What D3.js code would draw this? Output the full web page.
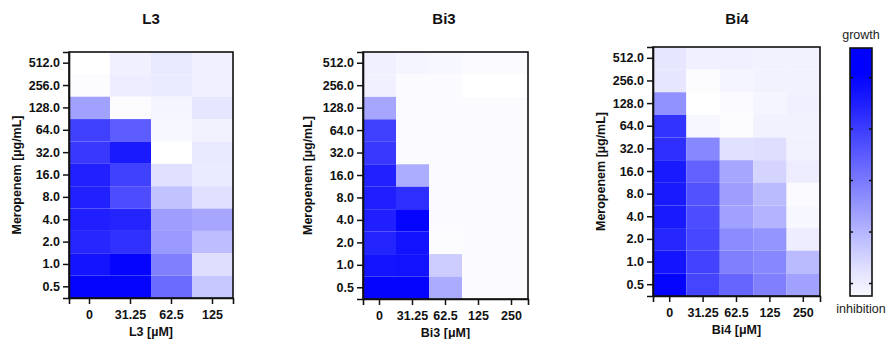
<!DOCTYPE html>
<html><head><meta charset="utf-8">
<script src="https://cdn.jsdelivr.net/npm/d3@7"></script>
<style>
body{margin:0;background:#fff;}
svg{display:block;font-family:"Liberation Sans",Arial,sans-serif;}
</style></head><body>
<svg id="chart" width="892" height="339"></svg>
<script>
// ---- data ----
const meropenem = ["512.0","256.0","128.0","64.0","32.0","16.0","8.0","4.0","2.0","1.0","0.5"];
const l3Conc = ["0","31.25","62.5","125"];
const bi3Conc = ["0","31.25","62.5","125","250"];
const bi4Conc = ["0","31.25","62.5","125","250"];
// growth (0 = inhibition, 1 = growth), rows follow meropenem order
const l3Values = [
  [0.00,0.06,0.09,0.06],
  [0.01,0.07,0.08,0.06],
  [0.37,0.01,0.04,0.10],
  [0.75,0.64,0.03,0.05],
  [0.78,0.90,0.00,0.09],
  [0.87,0.75,0.12,0.08],
  [0.87,0.70,0.24,0.12],
  [0.88,0.86,0.38,0.35],
  [0.85,0.81,0.40,0.26],
  [0.92,0.98,0.50,0.13],
  [0.98,0.98,0.58,0.22]
];
const bi3Values = [
  [0.06,0.04,0.03,0.02,0.02],
  [0.06,0.02,0.02,0.00,0.00],
  [0.35,0.02,0.02,0.02,0.02],
  [0.75,0.02,0.02,0.02,0.02],
  [0.78,0.02,0.02,0.02,0.02],
  [0.87,0.32,0.02,0.02,0.02],
  [0.88,0.82,0.02,0.02,0.02],
  [0.88,0.98,0.02,0.02,0.02],
  [0.86,0.93,0.01,0.02,0.02],
  [0.92,0.93,0.20,0.02,0.02],
  [0.98,0.98,0.33,0.02,0.02]
];
const bi4Values = [
  [0.10,0.06,0.06,0.05,0.05],
  [0.10,0.01,0.04,0.05,0.05],
  [0.43,0.00,0.02,0.04,0.06],
  [0.80,0.03,0.01,0.05,0.05],
  [0.82,0.47,0.12,0.13,0.05],
  [0.90,0.62,0.35,0.17,0.07],
  [0.90,0.68,0.38,0.27,0.02],
  [0.90,0.70,0.37,0.30,0.03],
  [0.85,0.72,0.45,0.42,0.07],
  [0.92,0.74,0.50,0.47,0.27],
  [0.98,0.73,0.60,0.50,0.37]
];
const colorbarTicks = [0,0.25,0.5,0.75,1];

const panels = [
  {title:"L3", xlab:"L3 [µM]", cols:l3Conc, vals:l3Values, x0:69, x1:233, y0:52, y1:298, ylabX:17, titleX:151},
  {title:"Bi3", xlab:"Bi3 [μM]", cols:bi3Conc, vals:bi3Values, x0:363, x1:528, y0:52, y1:299, ylabX:308, titleX:444},
  {title:"Bi4", xlab:"Bi4 [μM]", cols:bi4Conc, vals:bi4Values, x0:653, x1:820, y0:47, y1:296, ylabX:601, titleX:737}
];

const svg = d3.select("#chart");
const color = d3.scaleLinear().domain([0,1]).range(["#ffffff","#0000ff"]).clamp(true);

panels.forEach(p=>{
  const g = svg.append("g");
  const x = d3.scaleBand().domain(p.cols).range([p.x0,p.x1]);
  const y = d3.scaleBand().domain(meropenem).range([p.y0,p.y1]);
  const cells = [];
  p.vals.forEach((row,i)=>row.forEach((v,j)=>cells.push({r:meropenem[i],c:p.cols[j],v})));
  g.selectAll("rect.cell").data(cells).join("rect")
    .attr("class","cell")
    .attr("x",d=>x(d.c)).attr("y",d=>y(d.r))
    .attr("width",x.bandwidth()).attr("height",y.bandwidth())
    .attr("fill",d=>color(d.v));
  // frame
  g.append("rect").attr("x",p.x0).attr("y",p.y0).attr("width",p.x1-p.x0).attr("height",p.y1-p.y0)
    .attr("fill","none").attr("stroke","#111").attr("stroke-width",1.6);
  // axes
  const ya = g.append("g").attr("transform",`translate(${p.x0},0)`)
    .call(d3.axisLeft(y).tickSize(6).tickPadding(3));
  const xa = g.append("g").attr("transform",`translate(0,${p.y1})`)
    .call(d3.axisBottom(x).tickSize(6).tickPadding(6));
  [ya,xa].forEach(a=>{
    a.select(".domain").attr("stroke","#111").attr("stroke-width",1.6);
    a.selectAll(".tick line").attr("stroke","#111").attr("stroke-width",1.5);
    a.selectAll("text").attr("font-size",12.5).attr("font-weight","bold").attr("fill","#111")
      .attr("font-family","'Liberation Sans',Arial,sans-serif");
  });
  // titles
  g.append("text").attr("x",p.titleX).attr("y",24).attr("text-anchor","middle")
    .attr("font-size",15).attr("font-weight","bold").attr("fill","#111").text(p.title);
  g.append("text").attr("x",(p.x0+p.x1)/2).attr("y",p.y1+38).attr("text-anchor","middle")
    .attr("font-size",12.5).attr("font-weight","bold").attr("fill","#111").text(p.xlab);
  g.append("text").attr("transform",`translate(${p.ylabX+4},${(p.y0+p.y1)/2}) rotate(-90)`)
    .attr("text-anchor","middle")
    .attr("font-size",12.5).attr("font-weight","bold").attr("fill","#111").text("Meropenem [µg/mL]");
});

// colorbar
const cb = {x0:850,x1:872,y0:48,y1:296};
const cbScale = d3.scaleLinear().domain([-0.063,1.141]).range([cb.y1,cb.y0]);
const defs = svg.append("defs");
const grad = defs.append("linearGradient").attr("id","cbgrad").attr("x1",0).attr("y1",1).attr("x2",0).attr("y2",0);
d3.range(0,1.0001,0.1).forEach(t=>{
  const v = cbScale.domain()[0] + t*(cbScale.domain()[1]-cbScale.domain()[0]);
  grad.append("stop").attr("offset",t).attr("stop-color",d3.interpolateRgb("#f8f8ff","#0000ff")(Math.max(0,Math.min(1,(v+0.03)/1.03))));
});
svg.append("rect").attr("x",cb.x0).attr("y",cb.y0).attr("width",cb.x1-cb.x0).attr("height",cb.y1-cb.y0)
  .attr("fill","url(#cbgrad)").attr("stroke","#111").attr("stroke-width",1.6);
const cbL = svg.append("g").attr("transform",`translate(${cb.x0},0)`).call(d3.axisRight(cbScale).tickValues(colorbarTicks).tickSize(3).tickFormat(""));
const cbR = svg.append("g").attr("transform",`translate(${cb.x1},0)`).call(d3.axisLeft(cbScale).tickValues(colorbarTicks).tickSize(3).tickFormat(""));
[cbL,cbR].forEach(a=>{a.select(".domain").remove(); a.selectAll(".tick line").attr("stroke","#111").attr("stroke-width",1.5);});
svg.append("text").attr("x",(cb.x0+cb.x1)/2).attr("y",39).attr("text-anchor","middle")
  .attr("font-size",12.5).attr("fill","#222").text("growth");
svg.append("text").attr("x",(cb.x0+cb.x1)/2).attr("y",313).attr("text-anchor","middle")
  .attr("font-size",12.5).attr("fill","#222").text("inhibition");
</script></body></html>
